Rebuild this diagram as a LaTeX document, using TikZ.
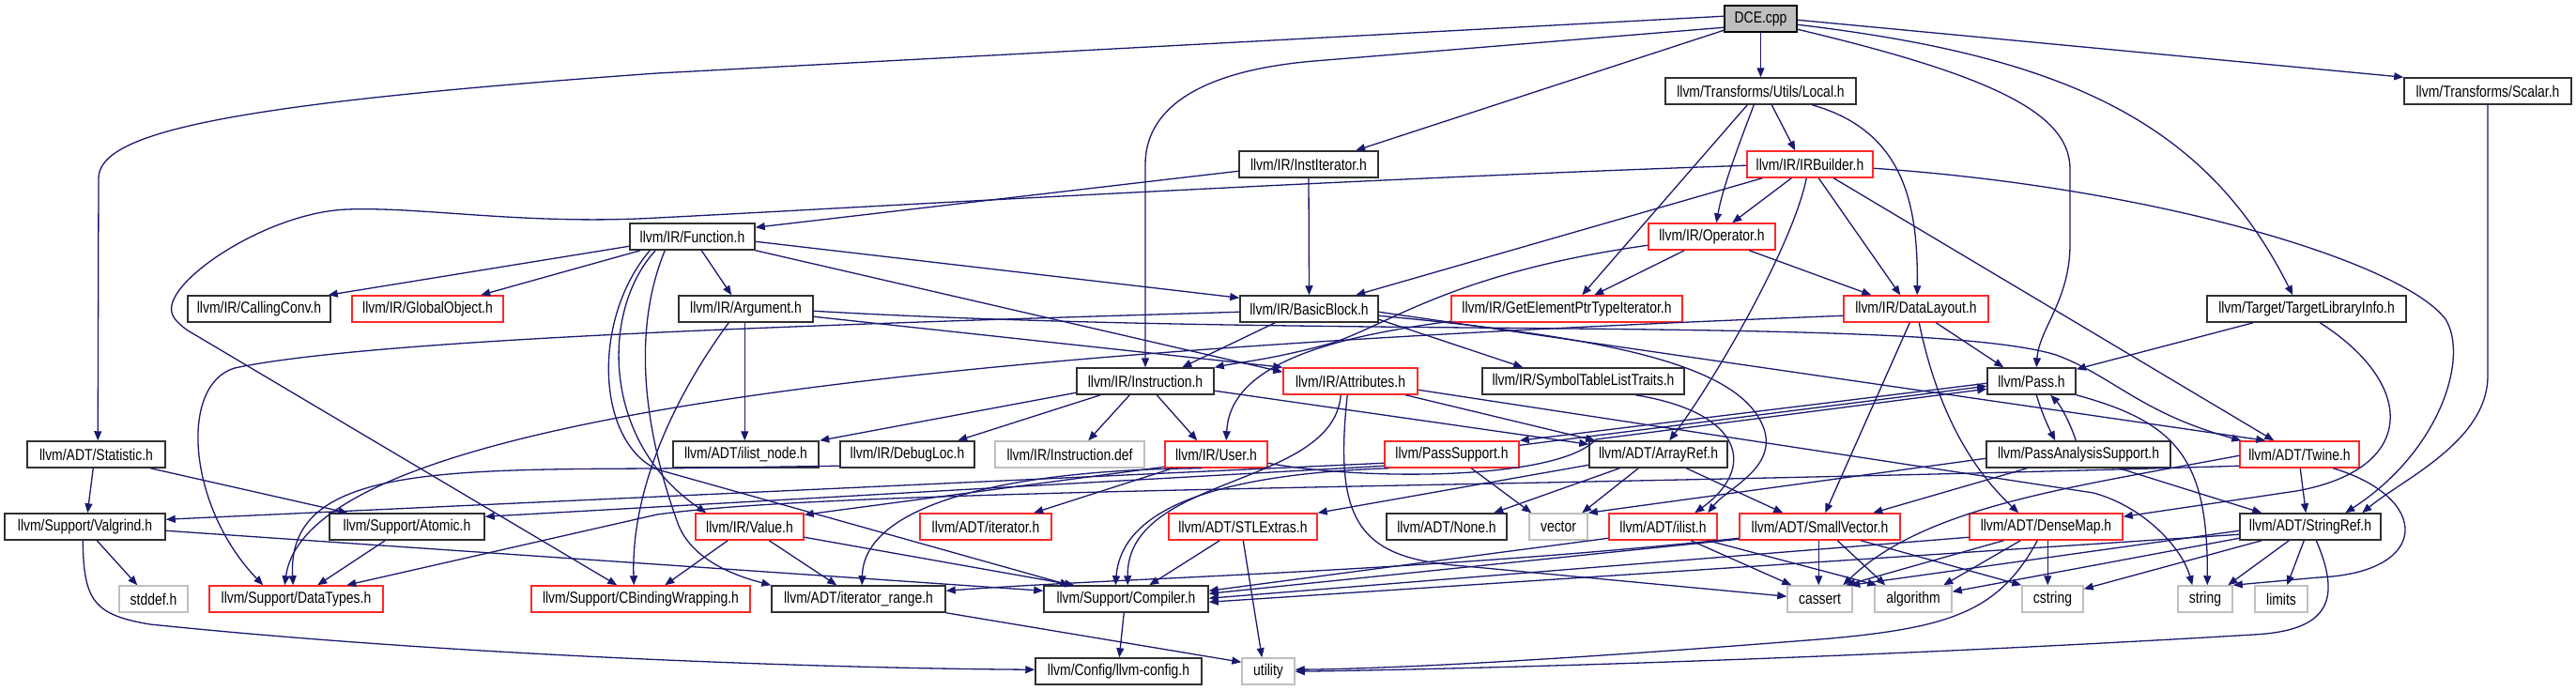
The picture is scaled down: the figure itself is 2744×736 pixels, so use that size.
\documentclass[tikz,border=0pt]{standalone}
\usepackage{fontspec}
\setmainfont{Liberation Sans}[FakeStretch=0.82]
\usetikzlibrary{arrows.meta}
\definecolor{mblue}{HTML}{191970}
\definecolor{boxred}{HTML}{FF2828}
\definecolor{boxgray}{HTML}{BFBFBF}
\definecolor{boxblack}{HTML}{303030}
\newcommand{\lblfont}{\fontsize{17}{20}\selectfont}
\tikzset{
  box/.style={rectangle, draw=boxblack, line width=1.5pt, minimum height=28pt, inner sep=0pt, font=\lblfont, text=black},
  rbox/.style={box, draw=boxred},
  gbox/.style={box, draw=boxgray},
  conn/.style={draw=mblue, line width=1.3pt, line join=round, -{Triangle[length=10pt,width=8pt]}},
}
\begin{document}
\begin{tikzpicture}[x=1pt,y=-1pt]
\useasboundingbox (0,0) rectangle (2744,736);
% ---------- nodes ----------
\node[box,minimum width=77pt,fill=boxgray,draw=black] (dce) at (1875.5,20) {DCE.cpp};
\node[box,minimum width=203pt] (local) at (1875.5,97) {llvm/Transforms/Utils/Local.h};
\node[box,minimum width=178pt] (scalar) at (2650,97) {llvm/Transforms/Scalar.h};
\node[box,minimum width=148pt] (instit) at (1394,175) {llvm/IR/InstIterator.h};
\node[rbox,minimum width=134pt] (irb) at (1928,175) {llvm/IR/IRBuilder.h};
\node[box,minimum width=133pt] (func) at (737.5,252) {llvm/IR/Function.h};
\node[rbox,minimum width=135pt] (oper) at (1823.5,252) {llvm/IR/Operator.h};
\node[box,minimum width=152pt] (cc) at (276,329) {llvm/IR/CallingConv.h};
\node[rbox,minimum width=161pt] (gobj) at (455.5,329) {llvm/IR/GlobalObject.h};
\node[box,minimum width=143pt] (arg) at (794.5,329) {llvm/IR/Argument.h};
\node[box,minimum width=147pt] (bb) at (1394.5,329) {llvm/IR/BasicBlock.h};
\node[rbox,minimum width=246pt] (gep) at (1669,329) {llvm/IR/GetElementPtrTypeIterator.h};
\node[rbox,minimum width=154pt] (dl) at (2041,329) {llvm/IR/DataLayout.h};
\node[box,minimum width=212pt] (tli) at (2457,329) {llvm/Target/TargetLibraryInfo.h};
\node[box,minimum width=146pt] (inst) at (1220,406) {llvm/IR/Instruction.h};
\node[rbox,minimum width=143pt] (attr) at (1438.5,406) {llvm/IR/Attributes.h};
\node[box,minimum width=215pt] (stlt) at (1686.5,406) {llvm/IR/SymbolTableListTraits.h};
\node[box,minimum width=94pt] (pass) at (2164,406) {llvm/Pass.h};
\node[box,minimum width=147pt] (stat) at (102.5,484) {llvm/ADT/Statistic.h};
\node[box,minimum width=155pt] (ilnode) at (794.5,484) {llvm/ADT/ilist\_node.h};
\node[box,minimum width=143pt] (dloc) at (966.5,484) {llvm/IR/DebugLoc.h};
\node[gbox,minimum width=159pt] (idef) at (1139.5,484) {llvm/IR/Instruction.def};
\node[rbox,minimum width=109pt] (user) at (1295.5,484) {llvm/IR/User.h};
\node[rbox,minimum width=143pt] (psup) at (1546.5,484) {llvm/PassSupport.h};
\node[box,minimum width=147pt] (aref) at (1766.5,484) {llvm/ADT/ArrayRef.h};
\node[box,minimum width=196pt] (pas) at (2214,484) {llvm/PassAnalysisSupport.h};
\node[rbox,minimum width=127pt] (twine) at (2449.5,484) {llvm/ADT/Twine.h};
\node[box,minimum width=171pt] (valg) at (90.5,561) {llvm/Support/Valgrind.h};
\node[box,minimum width=165pt] (atomic) at (433.5,561) {llvm/Support/Atomic.h};
\node[rbox,minimum width=115pt] (value) at (798.5,561) {llvm/IR/Value.h};
\node[rbox,minimum width=140pt] (iter) at (1050,561) {llvm/ADT/iterator.h};
\node[rbox,minimum width=158pt] (stl) at (1324,561) {llvm/ADT/STLExtras.h};
\node[box,minimum width=128pt] (none) at (1541,561) {llvm/ADT/None.h};
\node[gbox,minimum width=62pt] (vector) at (1660,561) {vector};
\node[rbox,minimum width=115pt] (ilist) at (1771.5,561) {llvm/ADT/ilist.h};
\node[rbox,minimum width=171pt] (svec) at (1938.5,561) {llvm/ADT/SmallVector.h};
\node[rbox,minimum width=163pt] (dmap) at (2179.5,561) {llvm/ADT/DenseMap.h};
\node[box,minimum width=150pt] (sref) at (2461,561) {llvm/ADT/StringRef.h};
\node[gbox,minimum width=73pt] (stddef) at (163.5,638) {stddef.h};
\node[rbox,minimum width=185pt] (dtypes) at (315.5,638) {llvm/Support/DataTypes.h};
\node[rbox,minimum width=233pt] (cbw) at (682.5,638) {llvm/Support/CBindingWrapping.h};
\node[box,minimum width=185pt] (irange) at (914.5,638) {llvm/ADT/iterator\_range.h};
\node[box,minimum width=175pt] (comp) at (1199.5,638) {llvm/Support/Compiler.h};
\node[gbox,minimum width=69pt] (cassert) at (1938.5,638) {cassert};
\node[gbox,minimum width=82pt] (algo) at (2038,638) {algorithm};
\node[gbox,minimum width=65pt] (cstring) at (2186.5,638) {cstring};
\node[gbox,minimum width=58pt] (string) at (2349,638) {string};
\node[gbox,minimum width=56pt] (limits) at (2430,638) {limits};
\node[box,minimum width=177pt] (config) at (1191.5,715) {llvm/Config/llvm-config.h};
\node[gbox,minimum width=56pt] (utility) at (1351,715) {utility};
% ---------- DCE.cpp ----------
\draw[conn] (dce.south) -- (local.north);
\draw[conn] ([yshift=-27pt]dce.north west) -- ([xshift=125pt]instit.north west);
\draw[conn] ([yshift=-24pt]dce.north west) -- (1400,65) .. controls (1270,76) and (1220,120) .. (1220,175) -- (inst.north);
\draw[conn] ([yshift=-12pt]dce.north west) -- (700,78) .. controls (250,110) and (105,140) .. (105,190) -- ([xshift=76pt]stat.north west);
\draw[conn] ([yshift=-16pt]dce.north east) -- (scalar.north west);
\draw[conn] ([yshift=-21pt]dce.north east) .. controls (2200,60) and (2350,130) .. ([xshift=92pt]tli.north west);
\draw[conn] ([yshift=-26pt]dce.north east) .. controls (2120,80) and (2205,120) .. (2205,180) -- (2205,260) .. controls (2205,320) and (2172,350) .. ([xshift=53pt]pass.north west);
% ---------- Local.h ----------
\draw[conn] ([xshift=114pt]local.south west) -- ([xshift=52pt]irb.north west);
\draw[conn] ([xshift=95pt]local.south west) .. controls (1850,160) and (1835,200) .. ([xshift=73pt]oper.north west);
\draw[conn] ([xshift=88pt]local.south west) -- ([xshift=140pt]gep.north west);
\draw[conn] ([xshift=157pt]local.south west) .. controls (2030,140) and (2043,220) .. ([xshift=79pt]dl.north west);
% ---------- Scalar.h ----------
\draw[conn] (scalar.south) -- (2650,400) .. controls (2650,470) and (2560,510) .. ([xshift=131pt]sref.north west);
% ---------- InstIterator.h ----------
\draw[conn] ([yshift=-22pt]instit.north west) -- ([yshift=-5pt]func.north east);
\draw[conn] (instit.south) -- (bb.north);
% ---------- IRBuilder.h ----------
\draw[conn] ([xshift=48pt]irb.south west) -- ([xshift=90pt]oper.north west);
\draw[conn] ([xshift=17pt]irb.south west) -- ([xshift=124pt]bb.north west);
\draw[conn] ([xshift=77pt]irb.south west) -- ([xshift=61pt]dl.north west);
\draw[conn] ([yshift=-16pt]irb.north west) .. controls (1400,192) and (900,222) .. (700,232) .. controls (560,240) and (450,220) .. (370,223) .. controls (290,226) and (190,290) .. (183,325) .. controls (181,335) and (186,342) .. (200,352) -- ([xshift=92pt]cbw.north west);
\draw[conn] ([xshift=93pt]irb.south west) -- ([xshift=37pt]twine.north west);
\draw[conn] ([yshift=-19pt]irb.north east) .. controls (2300,200) and (2560,280) .. (2605,340) .. controls (2630,380) and (2600,480) .. ([xshift=113pt]sref.north west);
\draw[conn] ([xshift=64pt]irb.south west) .. controls (1910,260) and (1830,400) .. ([xshift=86pt]aref.north west);
% ---------- Function.h ----------
\draw[conn] ([yshift=-25pt]func.north west) -- ([xshift=-3pt]cc.north east);
\draw[conn] ([xshift=12pt]func.south west) -- ([xshift=138pt]gobj.north west);
\draw[conn] ([xshift=77pt]func.south west) -- ([xshift=57pt]arg.north west);
\draw[conn] ([yshift=-20pt]func.north east) -- ([yshift=-3pt]bb.north west);
\draw[conn] (func.south east) -- ([yshift=-5pt]attr.north west);
\draw[conn] ([xshift=28pt]func.south west) .. controls (640,330) and (640,470) .. ([xshift=12pt]value.north west);
\draw[conn] ([xshift=22pt]func.south west) .. controls (630,340) and (635,470) .. (700,500) -- ([xshift=28pt]comp.north west);
\draw[conn] ([xshift=38pt]func.south west) .. controls (670,360) and (690,470) .. (723,560) .. controls (740,600) and (790,615) .. (irange.north west);
% ---------- Argument.h ----------
\draw[conn] ([xshift=54pt]arg.south west) .. controls (720,420) and (672,520) .. ([xshift=110pt]cbw.north west);
\draw[conn] ([xshift=71pt]arg.south west) -- ([xshift=77pt]ilnode.north west);
\draw[conn] ([yshift=-23pt]arg.north east) -- (attr.north west);
\draw[conn] ([yshift=-17pt]arg.north east) .. controls (1400,362) and (2050,335) .. (2190,378) .. controls (2250,400) and (2280,440) .. ([xshift=2pt]twine.north west);
% ---------- BasicBlock.h ----------
\draw[conn] ([xshift=38pt]bb.south west) -- ([xshift=113pt]inst.north west);
\draw[conn] ([yshift=-26pt]bb.north east) -- ([xshift=44pt]stlt.north west);
\draw[conn] ([yshift=-18pt]bb.north east) -- ([xshift=28pt]twine.north west);
\draw[conn] ([yshift=-22pt]bb.north east) .. controls (1720,360) and (1860,390) .. (1880,460) .. controls (1890,500) and (1840,520) .. ([xshift=106pt]ilist.north west);
\draw[conn] ([yshift=-18pt]bb.north west) .. controls (900,345) and (400,360) .. (250,392) .. controls (190,410) and (200,540) .. ([xshift=58pt]dtypes.north west);
% ---------- Operator.h ----------
\draw[conn] ([xshift=39pt]oper.south west) -- ([xshift=153pt]gep.north west);
\draw[conn] ([xshift=108pt]oper.south west) -- ([xshift=30pt]dl.north west);
\draw[conn] ([yshift=-24pt]oper.north west) .. controls (1550,290) and (1480,345) .. (1420,365) .. controls (1360,382) and (1320,386) .. (inst.north east);
% ---------- GetElementPtrTypeIterator.h ----------
\draw[conn] ([yshift=-28pt]gep.north west) .. controls (1410,360) and (1310,390) .. ([xshift=66pt]user.north west);
% ---------- DataLayout.h ----------
\draw[conn] ([xshift=99pt]dl.south west) -- ([xshift=18pt]pass.north west);
\draw[conn] ([xshift=81pt]dl.south west) .. controls (2060,420) and (2090,490) .. ([xshift=53pt]dmap.north west);
\draw[conn] ([xshift=71pt]dl.south west) -- ([xshift=92pt]svec.north west);
\draw[conn] ([yshift=-22pt]dl.north west) .. controls (1100,370) and (330,430) .. ([xshift=81pt]dtypes.north west);
% ---------- TargetLibraryInfo.h ----------
\draw[conn] ([xshift=50pt]tli.south west) -- ([yshift=-2pt]pass.north east);
\draw[conn] ([xshift=121pt]tli.south west) .. controls (2575,410) and (2575,500) .. (2446,523) -- ([yshift=-4pt]dmap.north east);
% ---------- Instruction.h ----------
\draw[conn] ([yshift=-27pt]inst.north west) -- ([xshift=157pt]ilnode.north west);
\draw[conn] ([xshift=26pt]inst.south west) -- ([xshift=126pt]dloc.north west);
\draw[conn] ([xshift=57pt]inst.south west) -- ([xshift=100pt]idef.north west);
\draw[conn] ([xshift=86pt]inst.south west) -- ([xshift=35pt]user.north west);
\draw[conn] ([yshift=-25pt]inst.north east) -- ([yshift=-4pt]aref.north west);
% ---------- Attributes.h ----------
\draw[conn] ([xshift=131pt]attr.south west) -- ([xshift=7pt]aref.north west);
\draw[conn] ([yshift=-24pt]attr.north east) -- (2230,525) .. controls (2285,540) and (2325,585) .. ([xshift=16pt]string.north west);
\draw[conn] ([xshift=62pt]attr.south west) .. controls (1420,520) and (1200,505) .. ([xshift=90pt]comp.north west);
\draw[conn] ([xshift=69pt]attr.south west) .. controls (1420,560) and (1450,595) .. (1560,603) -- ([yshift=-12pt]cassert.north west);
% ---------- SymbolTableListTraits.h ----------
\draw[conn] ([xshift=164pt]stlt.south west) .. controls (1860,440) and (1870,500) .. ([xshift=92pt]ilist.north west);
% ---------- User.h ----------
\draw[conn] ([yshift=-28pt]user.north west) -- ([yshift=-2pt]value.north east);
\draw[conn] ([xshift=9pt]user.south west) -- ([xshift=122pt]iter.north west);
\draw[conn] ([xshift=40pt]user.south west) .. controls (1080,500) and (920,535) .. ([xshift=97pt]irange.north west);
\draw[conn] ([yshift=-24pt]user.north east) .. controls (1450,512) and (1660,512) .. (1700,468) -- ([yshift=-23pt]pass.north west);
% ---------- PassSupport.h / Pass.h ----------
\draw[conn] ([yshift=-5pt]psup.north east) -- ([yshift=-20pt]pass.north west);
\draw[conn] ([yshift=-17pt]pass.north west) -- (psup.north east);
\draw[conn] ([xshift=93pt]psup.south west) -- ([xshift=3pt]vector.north west);
\draw[conn] ([yshift=-27pt]psup.north west) -- ([yshift=-4pt]atomic.north east);
\draw[conn] ([yshift=-24pt]psup.north west) -- ([yshift=-7pt]valg.north east);
\draw[conn] ([xshift=5pt]psup.south west) .. controls (1300,505) and (1195,540) .. ([xshift=77pt]comp.north west);
\draw[conn] ([xshift=53pt]pass.south west) .. controls (2175,440) and (2182,455) .. ([xshift=74pt]pas.north west);
\draw[conn] ([xshift=96pt]pas.north west) .. controls (2205,450) and (2195,432) .. ([xshift=68pt]pass.south west);
\draw[conn] (pass.south east) .. controls (2320,450) and (2352,490) .. ([xshift=32pt]string.north west);
% ---------- PassAnalysisSupport.h ----------
\draw[conn] ([xshift=44pt]pas.south west) -- ([xshift=143pt]svec.north west);
\draw[conn] ([yshift=-19pt]pas.north west) -- (vector.north east);
\draw[conn] ([xshift=142pt]pas.south west) -- ([xshift=24pt]sref.north west);
% ---------- Statistic / Valgrind / Atomic ----------
\draw[conn] ([xshift=71pt]stat.south west) -- ([xshift=89pt]valg.north west);
\draw[conn] ([xshift=132pt]stat.south west) -- ([xshift=20pt]atomic.north west);
\draw[conn] ([xshift=99pt]valg.south west) -- ([xshift=20pt]stddef.north west);
\draw[conn] ([xshift=84pt]valg.south west) .. controls (89,640) and (100,655) .. (160,665) .. controls (500,700) and (900,712) .. ([yshift=-13pt]config.north west);
\draw[conn] ([yshift=-19pt]valg.north east) -- ([yshift=-6pt]comp.north west);
\draw[conn] ([xshift=60pt]atomic.south west) -- ([xshift=116pt]dtypes.north west);
% ---------- DebugLoc.h ----------
\draw[conn] ([yshift=-27pt]dloc.north west) -- (700,499) .. controls (460,500) and (305,500) .. ([xshift=90pt]dtypes.north west);
% ---------- Value.h ----------
\draw[conn] ([xshift=35pt]value.south west) -- ([xshift=143pt]cbw.north west);
\draw[conn] ([xshift=79pt]value.south west) -- ([xshift=70pt]irange.north west);
\draw[conn] ([yshift=-26pt]value.north east) -- ([xshift=33pt]comp.north west);
% ---------- Compiler / iterator_range / STLExtras ----------
\draw[conn] ([xshift=86pt]comp.south west) -- ([xshift=90pt]config.north west);
\draw[conn] (irange.south east) -- ([yshift=-5pt]utility.north west);
\draw[conn] ([xshift=55pt]stl.south west) -- ([xshift=113pt]comp.north west);
\draw[conn] ([xshift=80pt]stl.south west) -- ([xshift=22pt]utility.north west);
% ---------- ArrayRef.h ----------
\draw[conn] ([xshift=33pt]aref.south west) -- ([xshift=115pt]none.north west);
\draw[conn] ([xshift=53pt]aref.south west) -- ([xshift=57pt]vector.north west);
\draw[conn] ([xshift=104pt]aref.south west) -- ([xshift=47pt]svec.north west);
\draw[conn] ([yshift=-26pt]aref.north west) -- (stl.north east);
% ---------- ilist.h ----------
\draw[conn] ([xshift=88pt]ilist.south west) -- ([xshift=5pt]cassert.north west);
\draw[conn] ([xshift=106pt]ilist.south west) -- ([xshift=3pt]algo.north west);
\draw[conn] ([yshift=-27pt]ilist.north west) -- ([yshift=-6pt]comp.north east);
% ---------- SmallVector.h ----------
\draw[conn] ([xshift=85pt]svec.south west) -- ([xshift=34pt]cassert.north west);
\draw[conn] ([xshift=105pt]svec.south west) -- ([xshift=12pt]algo.north west);
\draw[conn] ([xshift=130pt]svec.south west) -- (cstring.north west);
\draw[conn] ([yshift=-27pt]svec.north west) .. controls (1500,610) and (1200,615) .. ([yshift=-6pt]irange.north east);
\draw[conn] ([yshift=-28pt]svec.north west) -- ([yshift=-9pt]comp.north east);
% ---------- DenseMap.h ----------
\draw[conn] ([xshift=55pt]dmap.south west) -- ([xshift=74pt]algo.north west);
\draw[conn] ([xshift=37pt]dmap.south west) -- ([xshift=63pt]cassert.north west);
\draw[conn] ([xshift=84pt]dmap.south west) -- ([xshift=28pt]cstring.north west);
\draw[conn] ([xshift=73pt]dmap.south west) .. controls (2130,650) and (2080,668) .. (1950,680) .. controls (1700,700) and (1500,712) .. ([yshift=-13pt]utility.north east);
\draw[conn] ([yshift=-26pt]dmap.north west) -- ([yshift=-14pt]comp.north east);
% ---------- Twine.h ----------
\draw[conn] ([xshift=65pt]twine.south west) -- ([xshift=71pt]sref.north west);
\draw[conn] ([xshift=100pt]twine.south west) .. controls (2590,530) and (2590,610) .. (2470,615) -- (string.north east);
\draw[conn] ([yshift=-27pt]twine.north west) .. controls (1600,520) and (900,520) .. (700,548) -- ([xshift=147pt]dtypes.north west);
\draw[conn] ([yshift=-16pt]twine.north west) .. controls (2200,520) and (2050,540) .. ([xshift=60pt]cassert.north west);
% ---------- StringRef.h ----------
\draw[conn] ([xshift=53pt]sref.south west) -- ([xshift=54pt]string.north west);
\draw[conn] ([xshift=69pt]sref.south west) -- ([xshift=35pt]limits.north west);
\draw[conn] ([xshift=24pt]sref.south west) -- ([yshift=-4pt]cstring.north east);
\draw[conn] ([yshift=-27pt]sref.north west) -- ([yshift=-7pt]algo.north east);
\draw[conn] ([yshift=-19pt]sref.north west) -- ([xshift=68pt]cassert.north west);
\draw[conn] ([yshift=-23pt]sref.north west) -- ([yshift=-18pt]comp.north east);
\draw[conn] ([xshift=82pt]sref.south west) .. controls (2495,640) and (2480,672) .. (2400,676) .. controls (2000,700) and (1600,712) .. ([yshift=-15pt]utility.north east);
\end{tikzpicture}
\end{document}
